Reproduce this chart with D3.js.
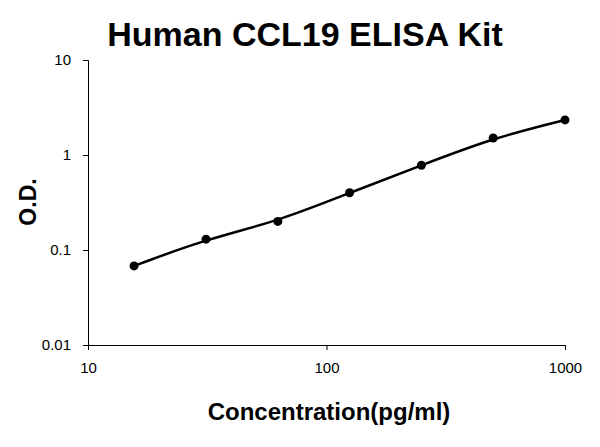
<!DOCTYPE html>
<html><head><meta charset="utf-8">
<script src="https://cdn.jsdelivr.net/npm/d3@7"></script>
<style>body{margin:0;background:#fff}text{font-family:"Liberation Sans",Arial,sans-serif}</style>
</head><body><div id="chart"></div>
<script>
const concentrations = [15.6, 31.25, 62.5, 125, 250, 500, 1000];
const odValues = [0.068, 0.13, 0.2, 0.4, 0.78, 1.51, 2.34];
const xTicks = [10, 100, 1000];
const yTicks = [0.01, 0.1, 1, 10];

const width = 600, height = 447;
const margin = {top: 60, right: 35, bottom: 102, left: 88};

const svg = d3.select("#chart").append("svg")
  .attr("width", width).attr("height", height);

const x = d3.scaleLog().domain([10, 1000]).range([margin.left, width - margin.right]);
const y = d3.scaleLog().domain([0.01, 10]).range([height - margin.bottom, margin.top]);

// axes
svg.append("g")
  .attr("transform", `translate(0,${height - margin.bottom})`)
  .call(d3.axisBottom(x).tickValues(xTicks).tickFormat(d3.format("d")).tickSize(5).tickPadding(12))
  .call(g => g.selectAll("text").style("font-size", "15px").attr("fill", "#000"));

svg.append("g")
  .attr("transform", `translate(${margin.left},0)`)
  .call(d3.axisLeft(y).tickValues(yTicks).tickFormat(d => d).tickSize(5).tickPadding(12))
  .call(g => g.selectAll("text").style("font-size", "15px").attr("fill", "#000"));

svg.selectAll(".domain, .tick line").attr("stroke", "#000");

// fitted curve
const pts = concentrations.map((c, i) => [x(c), y(odValues[i])]);
svg.append("path")
  .attr("d", d3.line().curve(d3.curveBasis)([pts[0], ...pts, pts[pts.length - 1]]))
  .attr("fill", "none").attr("stroke", "#000").attr("stroke-width", 2.5);

svg.selectAll(".pt").data(pts).enter().append("circle")
  .attr("cx", d => d[0]).attr("cy", d => d[1]).attr("r", 4.5).attr("fill", "#000");

// titles
svg.append("text").attr("x", 305).attr("y", 46).attr("text-anchor", "middle")
  .style("font-size", "34px").style("font-weight", "bold").text("Human CCL19 ELISA Kit");
svg.append("text").attr("x", 329).attr("y", 420).attr("text-anchor", "middle")
  .style("font-size", "24px").style("font-weight", "bold").text("Concentration(pg/ml)");
svg.append("text").attr("transform", "translate(36,202) rotate(-90)").attr("text-anchor", "middle")
  .style("font-size", "23px").style("font-weight", "bold").text("O.D.");
</script></body></html>
